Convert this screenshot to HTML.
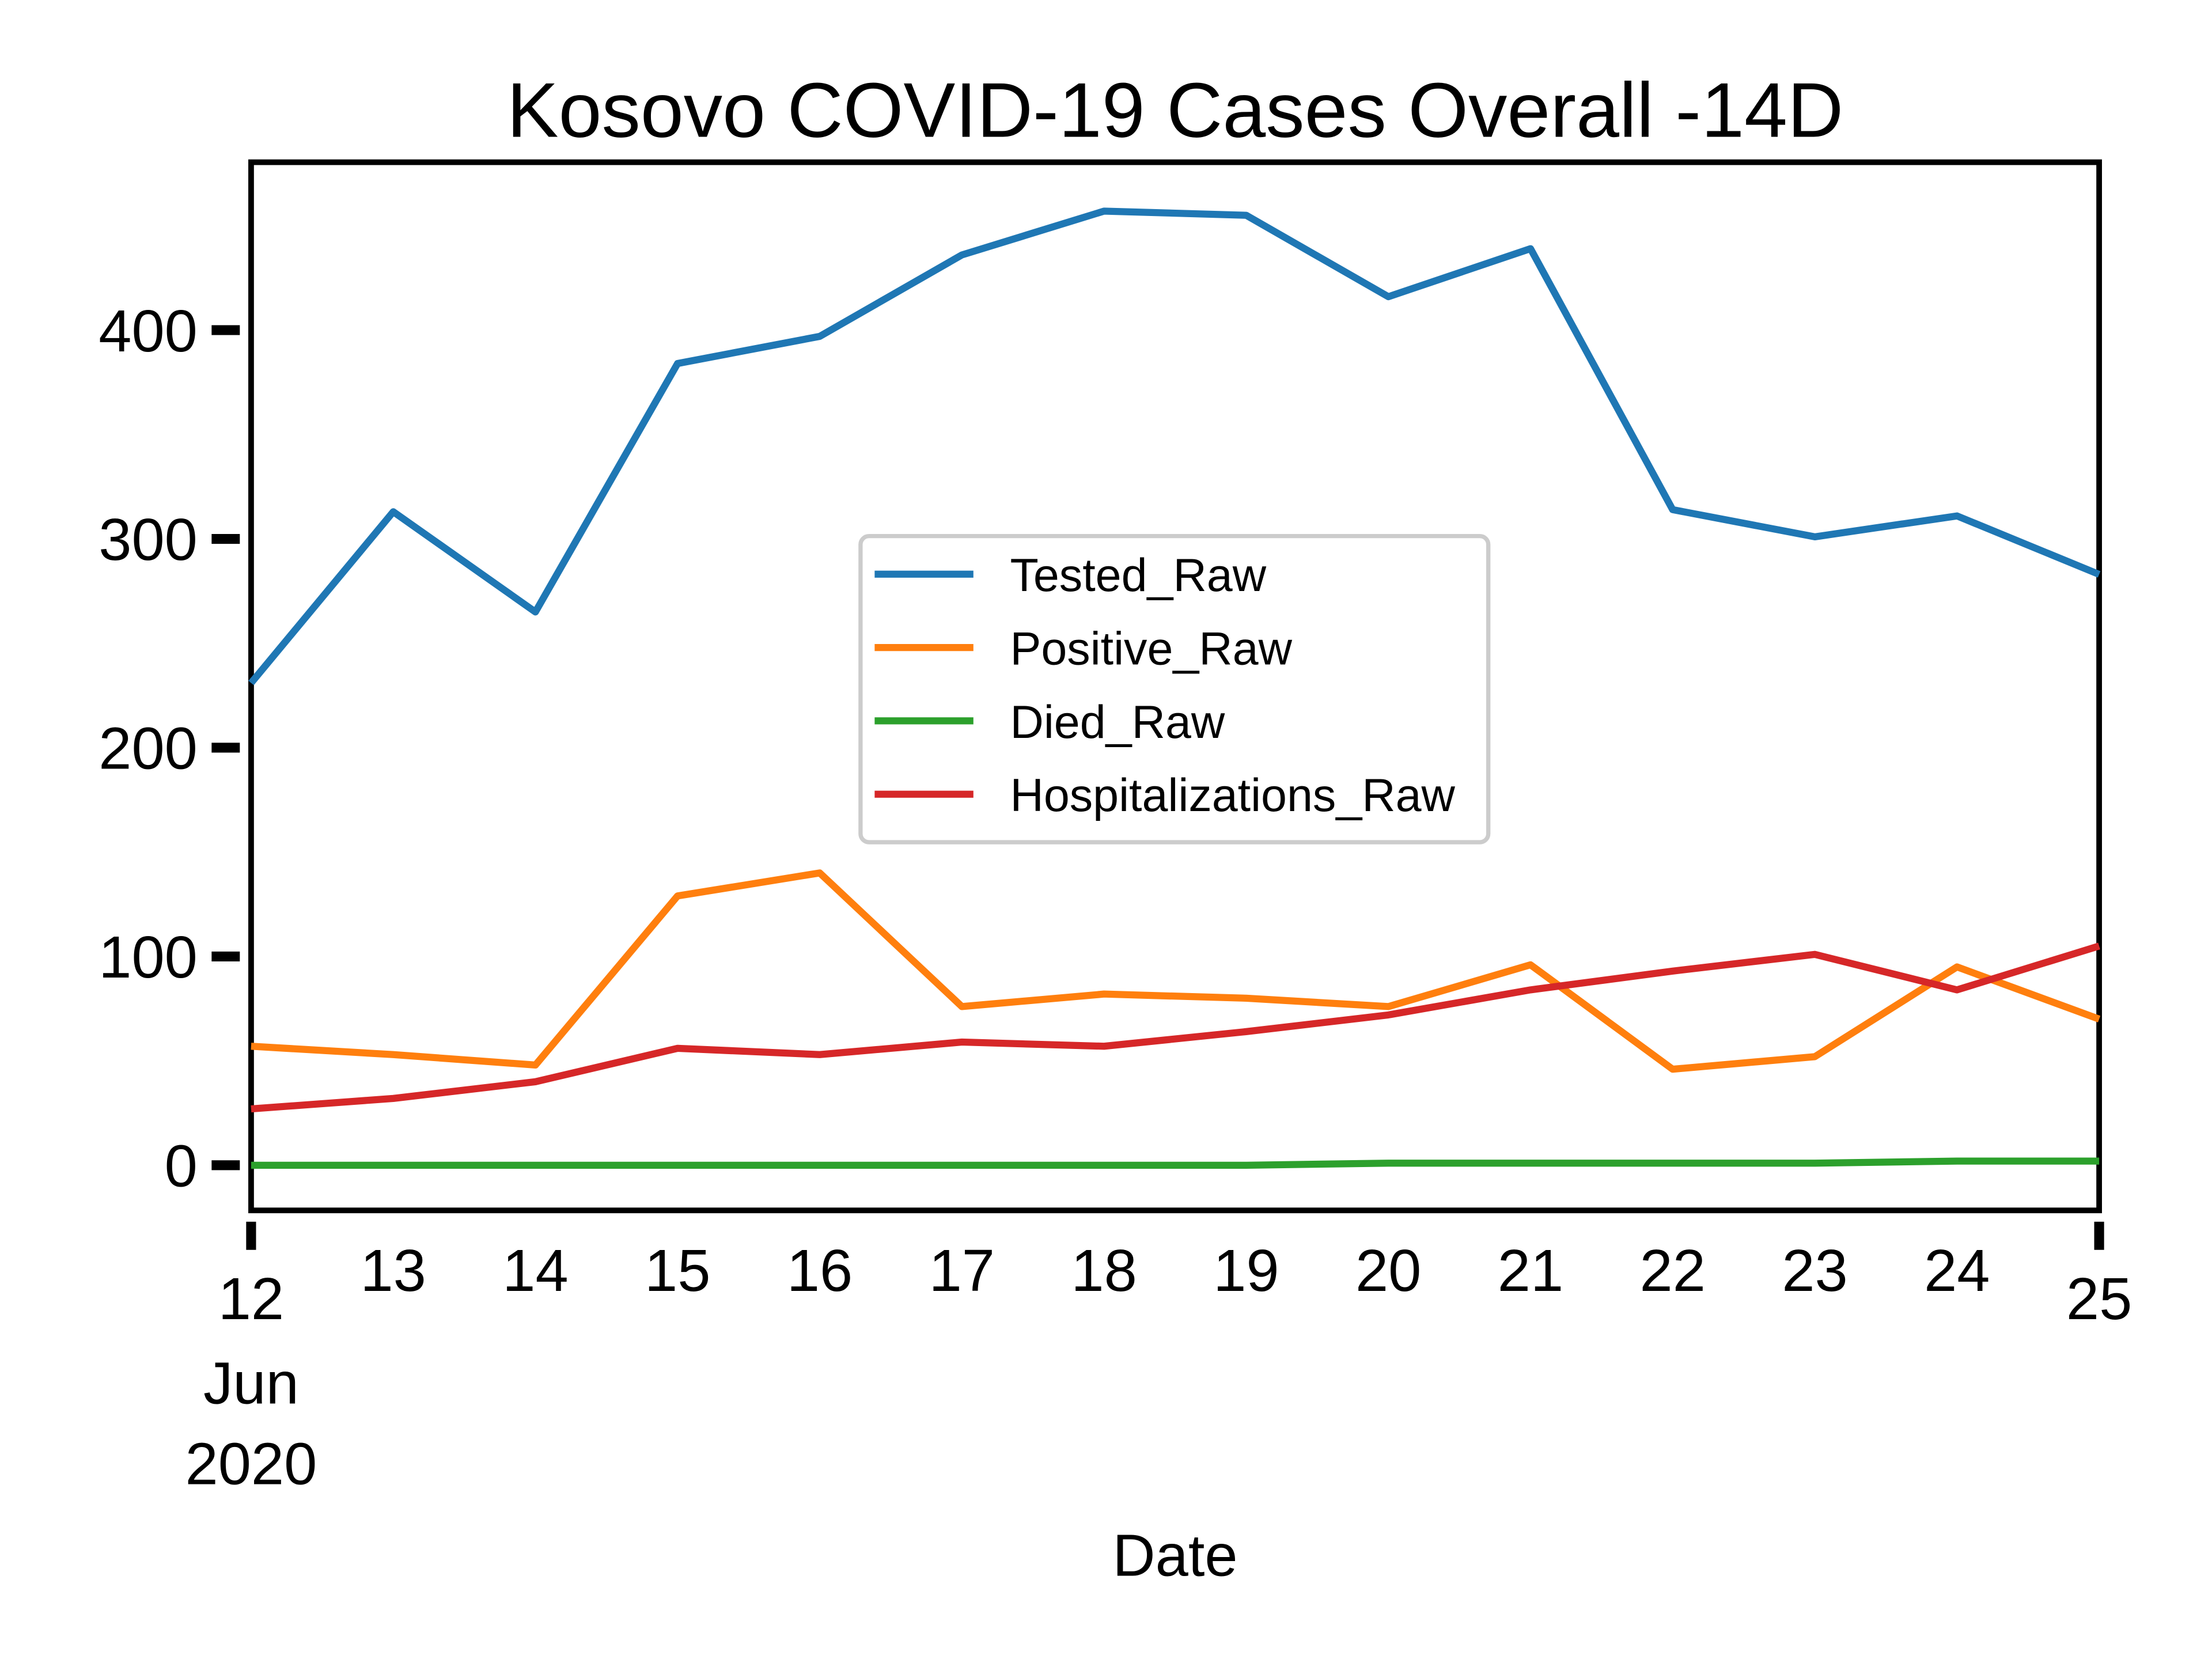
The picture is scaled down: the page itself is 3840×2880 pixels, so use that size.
<!DOCTYPE html>
<html><head><meta charset="utf-8"><style>
html,body{margin:0;padding:0;background:#fff}
svg{display:block}
text{font-family:"Liberation Sans",sans-serif;fill:#000}
</style></head><body>
<svg id="chart" width="3840" height="2880" viewBox="0 0 1568 1176" preserveAspectRatio="none" xmlns="http://www.w3.org/2000/svg">
<rect width="1568" height="1176" fill="#fff"/>
<text x="833" y="97" font-size="55" text-anchor="middle">Kosovo COVID-19 Cases Overall -14D</text>
<rect x="178" y="115" width="1310" height="743" fill="none" stroke="#000" stroke-width="4"/>
<g id="yaxis"></g>
<g id="xaxis"></g>
<g id="series"></g>
<text x="833" y="1117" font-size="42" text-anchor="middle">Date</text>
<g>
<rect x="610" y="380" width="445" height="217" rx="6" fill="#fff" fill-opacity="0.85" stroke="#ccc" stroke-width="3"/>
<line x1="620" y1="407" x2="690" y2="407" stroke="#1f77b4" stroke-width="5"/>
<text x="716" y="419" font-size="33">Tested_Raw</text>
<line x1="620" y1="459" x2="690" y2="459" stroke="#ff7f0e" stroke-width="5"/>
<text x="716" y="471" font-size="33">Positive_Raw</text>
<line x1="620" y1="511" x2="690" y2="511" stroke="#2ca02c" stroke-width="5"/>
<text x="716" y="523" font-size="33">Died_Raw</text>
<line x1="620" y1="563" x2="690" y2="563" stroke="#d62728" stroke-width="5"/>
<text x="716" y="575" font-size="33">Hospitalizations_Raw</text>
</g>
</svg>
<script>
const days = [12,13,14,15,16,17,18,19,20,21,22,23,24,25];
const tested = [231,313,265,384,397,436,457,455,416,439,314,301,311,283];
const positive = [57,53,48,129,140,76,82,80,76,96,46,52,95,70];
const died = [0,0,0,0,0,0,0,0,1,1,1,1,2,2];
const hosp = [27,32,40,56,53,59,57,64,72,84,93,101,84,105];
const yTicks = [0,100,200,300,400];
const xTickLabels = ["12","13","14","15","16","17","18","19","20","21","22","23","24","25"];
const NS = "http://www.w3.org/2000/svg";
function xs(d){return 178 + (d-12)*(1310/13);}
function ys(v){return 826 - v*1.48;}
const ya = document.getElementById('yaxis');
yTicks.forEach(t=>{
  const l=document.createElementNS(NS,'line');
  
  
  l.setAttribute('x1',150);l.setAttribute('x2',170);l.setAttribute('y1',ys(t));l.setAttribute('y2',ys(t));
  l.setAttribute('stroke','#000');l.setAttribute('stroke-width',7);
  ya.appendChild(l);
  const tx=document.createElementNS(NS,'text');
  
  
  tx.setAttribute('x',140);tx.setAttribute('y',ys(t)+15);tx.setAttribute('font-size',42);tx.setAttribute('text-anchor','end');
  tx.textContent=t;ya.appendChild(tx);
});
const xa = document.getElementById('xaxis');
days.forEach((d,i)=>{
  const major = (i===0||i===days.length-1);
  if(major){
    const l=document.createElementNS(NS,'line');
    
    
    l.setAttribute('x1',xs(d));l.setAttribute('x2',xs(d));l.setAttribute('y1',866);l.setAttribute('y2',886);
    l.setAttribute('stroke','#000');l.setAttribute('stroke-width',7);
    xa.appendChild(l);
  }
  const tx=document.createElementNS(NS,'text');
  
  
  tx.setAttribute('x',xs(d));tx.setAttribute('y',major?935:915);tx.setAttribute('font-size',42);tx.setAttribute('text-anchor','middle');
  tx.textContent=xTickLabels[i];xa.appendChild(tx);
});
[["Jun",995],["2020",1052]].forEach(p=>{
  const tx=document.createElementNS(NS,'text');
  
  
  tx.setAttribute('x',xs(12));tx.setAttribute('y',p[1]);tx.setAttribute('font-size',42);tx.setAttribute('text-anchor','middle');
  tx.textContent=p[0];xa.appendChild(tx);
});
const sg=document.getElementById('series');
[[tested,'#1f77b4','line-tested'],[positive,'#ff7f0e','line-positive'],[died,'#2ca02c','line-died'],[hosp,'#d62728','line-hospitalizations']].forEach(s=>{
  const p=document.createElementNS(NS,'polyline');
  
  
  p.setAttribute('points',s[0].map((v,i)=>xs(days[i])+','+ys(v)).join(' '));
  p.setAttribute('fill','none');p.setAttribute('stroke',s[1]);p.setAttribute('stroke-width',5);p.setAttribute('stroke-linejoin','round');
  sg.appendChild(p);
});
</script>
</body></html>
